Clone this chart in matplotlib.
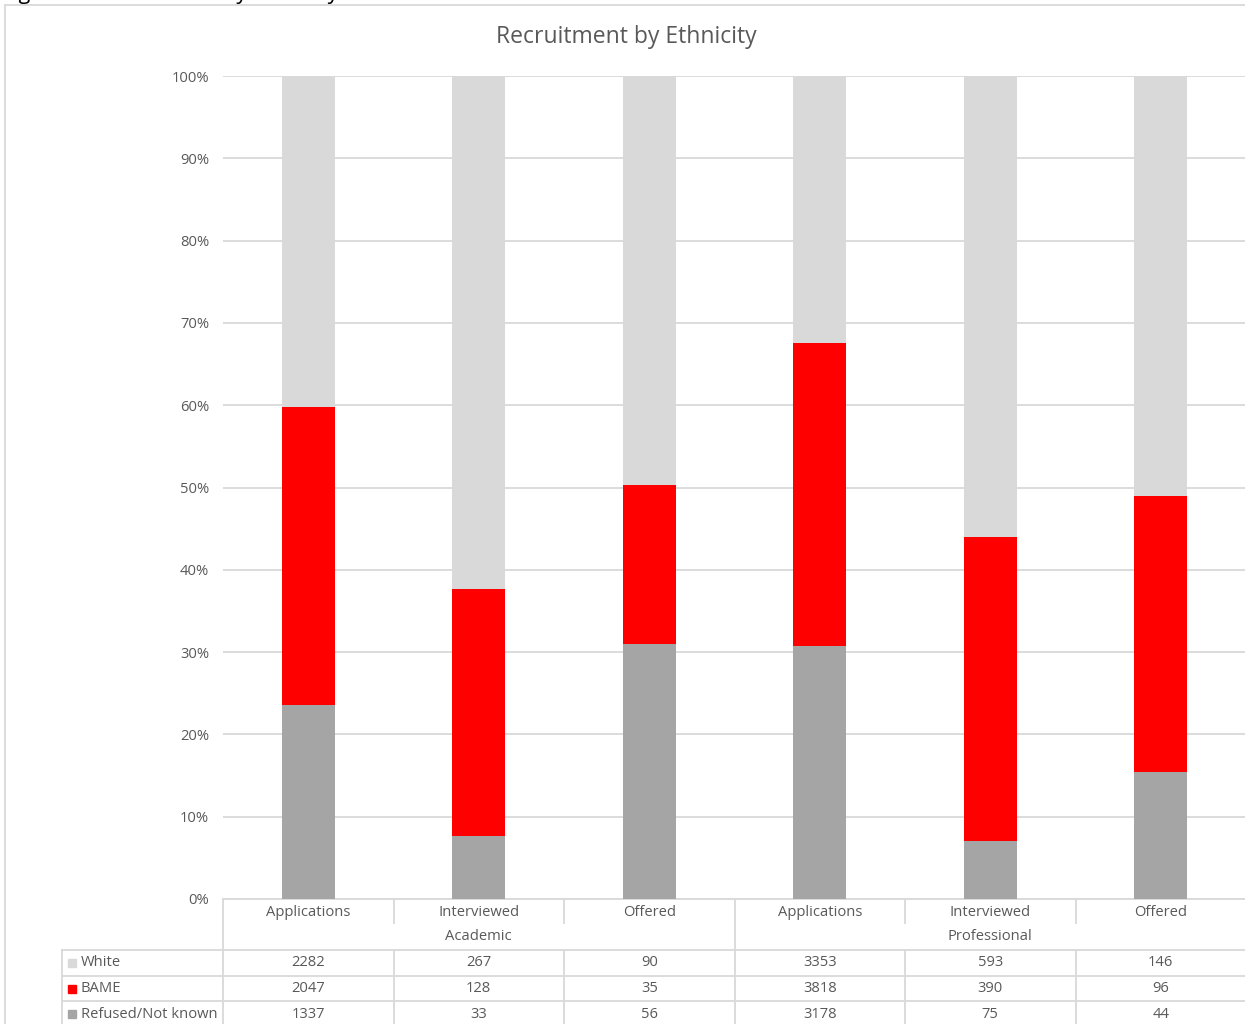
import matplotlib.pyplot as plt
import numpy as np
from matplotlib.lines import Line2D
from matplotlib.patches import Rectangle

plt.rcParams['font.family'] = ['Open Sans', 'DejaVu Sans']

# ---- data ----
stages = ['Applications', 'Interviewed', 'Offered', 'Applications', 'Interviewed', 'Offered']
groups = ['Academic', 'Professional']
series_names = ['White', 'BAME', 'Refused/Not known']
white = [2282, 267, 90, 3353, 593, 146]
bame = [2047, 128, 35, 3818, 390, 96]
refused = [1337, 33, 56, 3178, 75, 44]
colors = {'White': '#D9D9D9', 'BAME': '#FF0000', 'Refused/Not known': '#A5A5A5'}

TXT = '#595959'
GRID = '#D9D9D9'
FS = 10.6

W, H = 1245, 1024
fig = plt.figure(figsize=(W / 100, H / 100), dpi=100)


def fx(px):
    return px / W


def fy(py):
    return 1 - py / H


# plot area: 0% at y=899, 100% at y=76; 6 categories of ~170.5 px from x=223
x0, x1 = 223, 223 + 6 * 170.5
ax = fig.add_axes([fx(x0), fy(899), fx(x1 - x0), fy(76) - fy(899)])

vals = np.array([refused, bame, white], dtype=float)
pct = vals / vals.sum(axis=0) * 100
x = np.arange(len(stages))
bottom = np.zeros(len(stages))
for name, row in zip(['Refused/Not known', 'BAME', 'White'], pct):
    ax.bar(x, row, bottom=bottom, width=53 / 170.5, color=colors[name], zorder=3)
    bottom += row

ax.set_xlim(-0.5, len(stages) - 0.5)
ax.set_ylim(0, 100)
ax.set_yticks(np.arange(0, 101, 10))
ax.set_yticklabels([f'{v}%' for v in range(0, 101, 10)], color=TXT, fontsize=FS)
ax.tick_params(axis='y', length=0, pad=10)
ax.set_xticks([])
ax.grid(axis='y', color=GRID, linewidth=1.3, zorder=0)
for s in ['top', 'right', 'left']:
    ax.spines[s].set_visible(False)
ax.spines['bottom'].set_color(GRID)
ax.spines['bottom'].set_linewidth(1.3)
ax.set_facecolor('none')

# overlay in pixel coordinates for frame, title and data table
ov = fig.add_axes([0, 0, 1, 1], zorder=-1)
ov.set_xlim(0, W)
ov.set_ylim(H, 0)
ov.axis('off')
ov.patch.set_alpha(0)

ov.add_line(Line2D([5, 5], [5, H], color=GRID, lw=1.3))
ov.add_line(Line2D([5, W], [5, 5], color=GRID, lw=1.3))

# caption above the chart frame, mostly outside the page
ov.text(2, -7, 'Figure 4: Recruitment by Ethnicity 2019/20', fontsize=15.5, color='black',
        ha='left', va='center', clip_on=False)
ov.text(626, 37, 'Recruitment by Ethnicity', fontsize=16.5, color=TXT, ha='center', va='center')

col_w = 170.5
edges = [x0 + i * col_w for i in range(len(stages) + 1)]
row_y = [899, 924, 950, 976, 1001, 1027]
lc = dict(color=GRID, lw=1.3)

# horizontal rules
for yy in row_y[2:5]:
    ov.add_line(Line2D([62, W], [yy, yy], **lc))
# vertical rules
ov.add_line(Line2D([x0, x0], [899, H], **lc))
ov.add_line(Line2D([62, 62], [950, H], **lc))
for i, e in enumerate(edges[1:-1], start=1):
    if i == 3:
        ov.add_line(Line2D([e, e], [899, H], **lc))
    else:
        ov.add_line(Line2D([e, e], [899, 923], **lc))
        ov.add_line(Line2D([e, e], [950, H], **lc))

for i, st in enumerate(stages):
    cx = (edges[i] + edges[i + 1]) / 2
    ov.text(cx, 912, st, fontsize=FS, color=TXT, ha='center', va='center')
for g, grp in enumerate(groups):
    cx = (edges[3 * g] + edges[3 * g + 3]) / 2
    ov.text(cx, 937, grp, fontsize=FS, color=TXT, ha='center', va='center')

table_rows = [white, bame, refused]
for r, (name, row) in enumerate(zip(series_names, table_rows)):
    cy = (row_y[r + 2] + row_y[r + 3]) / 2
    ov.add_patch(Rectangle((68, cy - 4), 8, 8, color=colors[name]))
    ov.text(81, cy, name, fontsize=FS, color=TXT, ha='left', va='center')
    for i, v in enumerate(row):
        cx = (edges[i] + edges[i + 1]) / 2
        ov.text(cx, cy, str(v), fontsize=FS, color=TXT, ha='center', va='center')

fig.savefig('out.png', dpi=100, facecolor='white')
